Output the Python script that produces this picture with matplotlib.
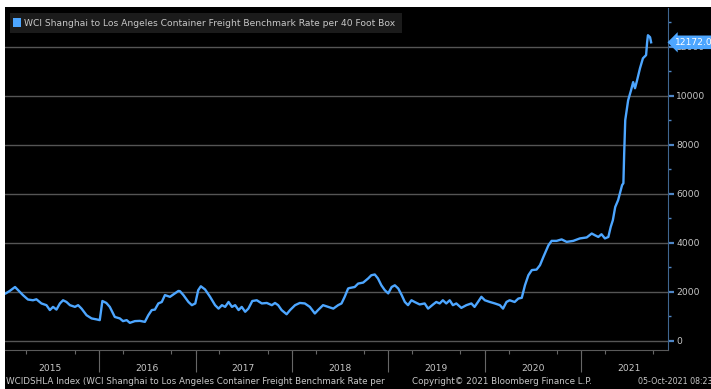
import numpy as np
import pandas as pd
import matplotlib
matplotlib.use("Agg")
from matplotlib import pyplot as plt
from matplotlib import dates as mdates
from matplotlib import ticker
from matplotlib.patches import Rectangle

plt.rcParams['font.family'] = ['DejaVu Sans']

# WCI Shanghai -> Los Angeles, USD per 40ft box
dates = [
    '2015-01-13', '2015-01-28', '2015-02-17', '2015-03-01', '2015-03-19', '2015-04-07',
    '2015-04-26', '2015-05-09', '2015-05-28', '2015-06-16', '2015-06-29', '2015-07-11',
    '2015-07-24', '2015-08-06', '2015-08-18', '2015-08-31', '2015-09-13', '2015-10-02',
    '2015-10-14', '2015-10-27', '2015-11-15', '2015-12-04', '2015-12-23', '2016-01-04',
    '2016-01-14', '2016-01-29', '2016-02-11', '2016-03-01', '2016-03-20', '2016-04-01',
    '2016-04-15', '2016-04-27', '2016-05-16', '2016-06-04', '2016-06-23', '2016-07-06',
    '2016-07-19', '2016-07-31', '2016-08-13', '2016-08-26', '2016-09-07', '2016-09-26',
    '2016-10-15', '2016-10-28', '2016-11-03', '2016-11-16', '2016-12-05', '2016-12-18',
    '2016-12-31', '2017-01-11', '2017-01-21', '2017-02-06', '2017-02-25', '2017-03-16',
    '2017-03-29', '2017-04-11', '2017-04-23', '2017-05-06', '2017-05-19', '2017-05-31',
    '2017-06-13', '2017-06-25', '2017-07-08', '2017-07-20', '2017-08-04', '2017-08-21',
    '2017-09-09', '2017-09-28', '2017-10-17', '2017-10-29', '2017-11-10', '2017-11-23',
    '2017-12-12', '2017-12-25', '2018-01-13', '2018-01-31', '2018-02-19', '2018-03-10',
    '2018-03-29', '2018-04-10', '2018-04-29', '2018-05-18', '2018-06-07', '2018-06-25',
    '2018-07-08', '2018-07-20', '2018-08-02', '2018-08-08', '2018-08-27', '2018-09-09',
    '2018-09-28', '2018-10-17', '2018-10-29', '2018-11-11', '2018-11-23', '2018-12-06',
    '2018-12-19', '2019-01-01', '2019-01-14', '2019-01-26', '2019-02-08', '2019-02-21',
    '2019-03-05', '2019-03-17', '2019-03-30', '2019-04-11', '2019-04-30', '2019-05-19',
    '2019-06-01', '2019-06-20', '2019-07-02', '2019-07-15', '2019-07-27', '2019-08-09',
    '2019-08-22', '2019-09-03', '2019-09-16', '2019-10-05', '2019-10-24', '2019-11-12',
    '2019-11-24', '2019-12-07', '2019-12-20', '2020-01-02', '2020-01-21', '2020-02-09',
    '2020-02-28', '2020-03-11', '2020-03-24', '2020-04-05', '2020-04-24', '2020-05-08',
    '2020-05-21', '2020-06-02', '2020-06-15', '2020-06-28', '2020-07-16', '2020-07-29',
    '2020-08-11', '2020-08-30', '2020-09-11', '2020-09-30', '2020-10-19', '2020-11-07',
    '2020-12-02', '2020-12-27', '2021-01-22', '2021-02-10', '2021-02-22', '2021-03-07',
    '2021-03-19', '2021-04-01', '2021-04-14', '2021-04-23', '2021-05-01', '2021-05-10',
    '2021-05-21', '2021-06-05', '2021-06-10', '2021-06-13', '2021-06-17', '2021-06-28',
    '2021-07-09', '2021-07-17', '2021-07-24', '2021-08-01', '2021-08-12', '2021-08-23',
    '2021-09-04', '2021-09-08', '2021-09-11', '2021-09-19', '2021-09-23',
]
rates = [
    1940, 2040, 2200, 2070, 1870, 1690,
    1660, 1700, 1530, 1460, 1260, 1390,
    1280, 1530, 1660, 1590, 1460, 1390,
    1460, 1320, 1050, 920, 880, 850,
    1630, 1550, 1390, 980, 920, 810,
    850, 740, 810, 820, 780, 1050,
    1260, 1280, 1530, 1590, 1870, 1800,
    1940, 2040, 2030, 1870, 1590, 1460,
    1530, 2070, 2230, 2100, 1800, 1460,
    1320, 1460, 1390, 1590, 1390, 1460,
    1260, 1390, 1190, 1320, 1630, 1660,
    1530, 1550, 1460, 1550, 1460, 1260,
    1090, 1260, 1460, 1550, 1530, 1390,
    1120, 1260, 1460, 1390, 1320, 1460,
    1530, 1800, 2140, 2160, 2200, 2340,
    2380, 2550, 2680, 2710, 2550, 2270,
    2070, 1940, 2200, 2270, 2140, 1870,
    1590, 1460, 1660, 1590, 1490, 1530,
    1320, 1490, 1590, 1530, 1660, 1530,
    1660, 1460, 1530, 1350, 1460, 1530,
    1390, 1590, 1800, 1660, 1590, 1530,
    1460, 1320, 1590, 1660, 1590, 1730,
    1760, 2270, 2680, 2890, 2910, 3090,
    3430, 3900, 4080, 4080, 4140, 4040,
    4080, 4180, 4220, 4380, 4310, 4240,
    4350, 4180, 4240, 4650, 4920, 5460,
    5740, 6350, 6430, 7650, 9000, 9810,
    10220, 10550, 10300, 10630, 11120, 11520,
    11650, 12180, 12460, 12380, 12172,
]
last_value = 12172.0
years = [2015, 2016, 2017, 2018, 2019, 2020, 2021]

title = 'WCI Shanghai to Los Angeles Container Freight Benchmark Rate per 40 Foot Box'
footer_left = 'WCIDSHLA Index (WCI Shanghai to Los Angeles Container Freight Benchmark Rate per'
footer_mid = 'Copyright\u00a9 2021 Bloomberg Finance L.P.'
footer_right = '05-Oct-2021 08:23:34'

df = pd.DataFrame({'date': pd.to_datetime(dates), 'rate': rates})

W, H = 711, 389
line_col = '#4da6ff'
txt_col = '#c8c8c8'
grid_col = '#555555'

fig = plt.figure(figsize=(W / 100, H / 100), dpi=100, facecolor='white')

# black panel (white frame on top/left like the screenshot)
fig.patches.append(Rectangle((5 / W, 0), 1, 1 - 7 / H, transform=fig.transFigure,
                             facecolor='black', edgecolor='none', zorder=-2))
# legend bar
fig.patches.append(Rectangle((10 / W, 1 - 33 / H), 392 / W, 20 / H, transform=fig.transFigure,
                             facecolor='#1b1b1b', edgecolor='none', zorder=-1))
fig.patches.append(Rectangle((13 / W, 1 - 27 / H), 8 / W, 9 / H, transform=fig.transFigure,
                             facecolor=line_col, edgecolor='none', zorder=-1))
fig.text(24 / W, 1 - 23 / H, title, color=txt_col, fontsize=6.6, va='center', ha='left')

ax = fig.add_axes([5 / W, 1 - 350 / H, 663 / W, 342 / H])
ax.set_facecolor('none')
ax.set_zorder(5)

ax.plot(df['date'], df['rate'], color=line_col, linewidth=1.7, solid_joinstyle='round', zorder=3)

ax.set_xlim(pd.Timestamp('2015-01-10'), pd.Timestamp('2021-11-26'))
ax.set_ylim(-367, 13570)

# y axis on the right
ax.yaxis.tick_right()
ax.yaxis.set_major_locator(ticker.MultipleLocator(2000))
ax.yaxis.set_minor_locator(ticker.MultipleLocator(1000))
ax.yaxis.set_major_formatter(ticker.FuncFormatter(lambda v, p: '%d' % v))
ax.tick_params(axis='y', which='major', length=4, width=1.6, color='#4f86c6',
               labelcolor=txt_col, labelsize=6.6, pad=2)
ax.tick_params(axis='y', which='minor', length=2.5, width=1, color='#4f86c6')
ax.grid(axis='y', which='major', color=grid_col, linewidth=1)

for s in ['top', 'left']:
    ax.spines[s].set_visible(False)
ax.spines['right'].set_color('#3f6690')
ax.spines['bottom'].set_color('#5a5a5a')

# x axis: quarterly ticks, year separators, year names in the middle
ax.xaxis.set_major_locator(mdates.YearLocator(month=7, day=1))
ax.xaxis.set_major_formatter(mdates.DateFormatter('%Y'))
ax.xaxis.set_minor_locator(mdates.MonthLocator(bymonth=[1, 4, 7, 10]))
ax.tick_params(axis='x', which='major', length=0, labelcolor=txt_col, labelsize=6.6, pad=10)
ax.tick_params(axis='x', which='minor', length=3, width=0.8, color='#666666')
year_starts = [pd.Timestamp('%d-01-01' % y) for y in years[1:]]
ax.vlines(year_starts, -22 / 342, 0, transform=ax.get_xaxis_transform(),
          color='#666666', linewidth=0.8, clip_on=False)

# last value tag
ax.annotate('%.1f' % last_value, xy=(1, last_value), xycoords=('axes fraction', 'data'),
            xytext=(5, 0), textcoords='offset points', va='center', ha='left',
            color='white', fontsize=6.6, zorder=10, annotation_clip=False,
            bbox=dict(boxstyle='larrow,pad=0.25', fc=line_col, ec='none'))

# footer
fig.text(6 / W, 1 - 382 / H, footer_left, color=txt_col, fontsize=6.3, va='center', ha='left')
fig.text(412 / W, 1 - 382 / H, footer_mid, color=txt_col, fontsize=6.3, va='center', ha='left')
fig.text(638 / W, 1 - 382 / H, footer_right, color=txt_col, fontsize=5.7, va='center', ha='left')

fig.savefig('out.png', dpi=100, facecolor='white')
